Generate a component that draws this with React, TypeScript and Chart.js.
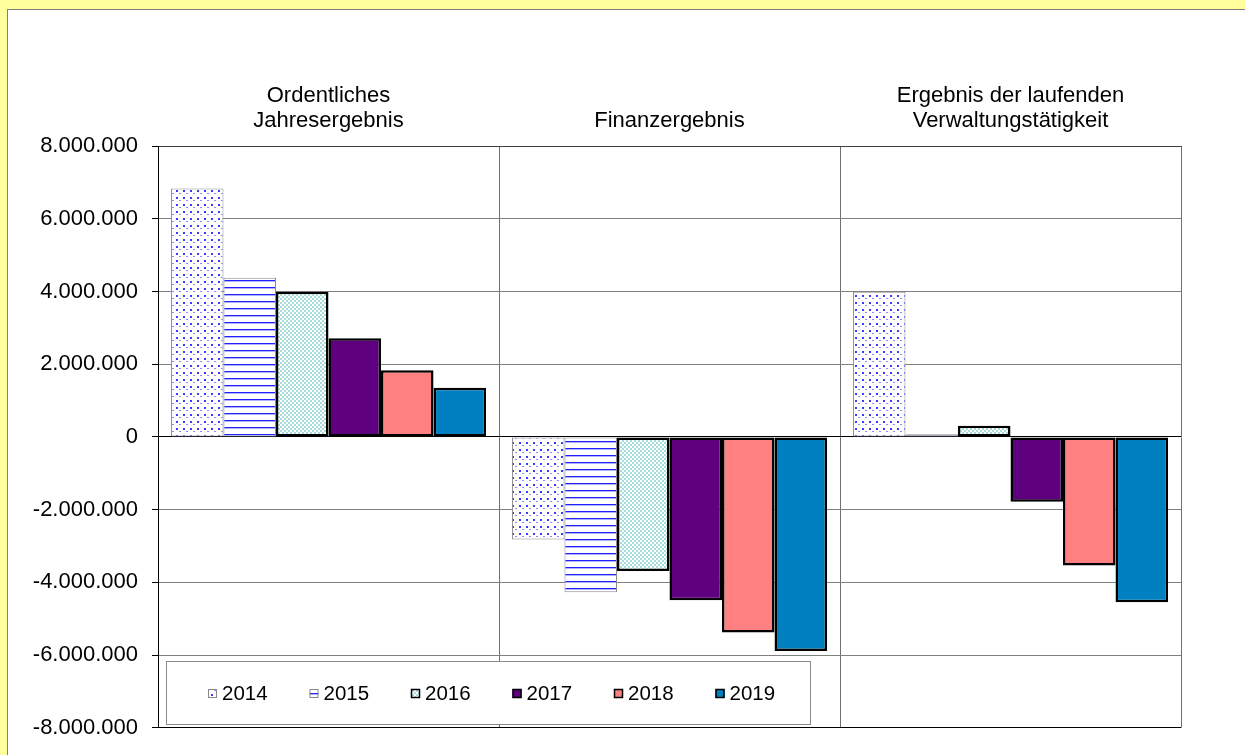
import React, { useEffect, useRef } from 'react';
import { Chart, registerables } from 'chart.js';

Chart.register(...registerables);

// ---- data ----
const categories: (string | string[])[] = [
  ['Ordentliches', 'Jahresergebnis'],
  'Finanzergebnis',
  ['Ergebnis der laufenden', 'Verwaltungstätigkeit'],
];
const years = ['2014', '2015', '2016', '2017', '2018', '2019'];
const values2014 = [6830000, -2820000, 3990000];
const values2015 = [4380000, -4270000, 70000];
const values2016 = [3990000, -3690000, 310000];
const values2017 = [2710000, -4490000, -1780000];
const values2018 = [1830000, -5380000, -3540000];
const values2019 = [1350000, -5890000, -4550000];
const yMin = -8000000;
const yMax = 8000000;
const yStep = 2000000;

const FONT = '"Liberation Sans", Arial, Helvetica, sans-serif';

function formatDE(v: number): string {
  const s = Math.abs(Math.round(v))
    .toString()
    .replace(/\B(?=(\d{3})+(?!\d))/g, '.');
  return (v < 0 ? '-' : '') + s;
}

function makePattern(kind: string): CanvasPattern | string {
  const c = document.createElement('canvas');
  const ctx = c.getContext('2d');
  if (!ctx) return '#fff';
  if (kind === 'dots') {
    c.width = 7;
    c.height = 7;
    ctx.fillStyle = '#ffffff';
    ctx.fillRect(0, 0, 7, 7);
    ctx.fillStyle = '#3a3aff';
    ctx.fillRect(1, 1, 2, 2);
    ctx.fillStyle = '#8a8aff';
    ctx.fillRect(4, 4, 2, 1);
  } else if (kind === 'lines') {
    c.width = 7;
    c.height = 7;
    ctx.fillStyle = '#ffffff';
    ctx.fillRect(0, 0, 7, 7);
    ctx.fillStyle = '#2222ff';
    ctx.fillRect(0, 0, 7, 1);
    ctx.fillStyle = '#b0b0ff';
    ctx.fillRect(0, 1, 7, 1);
  } else {
    c.width = 4;
    c.height = 4;
    ctx.fillStyle = '#a6dede';
    ctx.fillRect(0, 0, 4, 4);
    ctx.fillStyle = '#ffffff';
    ctx.fillRect(0, 0, 2, 2);
    ctx.fillRect(2, 2, 2, 2);
  }
  return ctx.createPattern(c, 'repeat') || '#fff';
}

const boxLegend = {
  id: 'boxLegend',
  afterDraw(chart: any) {
    const { ctx, chartArea } = chart;
    const x0 = chartArea.left + 8.5;
    const y0 = 661.5;
    const w = 644;
    const h = 63;
    ctx.save();
    ctx.fillStyle = '#ffffff';
    ctx.fillRect(x0, y0, w, h);
    ctx.strokeStyle = '#8a8a8a';
    ctx.lineWidth = 1;
    ctx.strokeRect(x0, y0, w, h);
    chart.data.datasets.forEach((ds: any, i: number) => {
      const sx = chartArea.left + 50 + i * 101.5;
      const sy = 689;
      ctx.fillStyle = ds.backgroundColor;
      ctx.fillRect(sx, sy, 9, 9);
      ctx.strokeStyle = ds.borderColor;
      ctx.lineWidth = ds.borderWidth > 1 ? 1.5 : 1;
      ctx.strokeRect(sx + 0.5, sy + 0.5, 8, 8);
      ctx.fillStyle = '#000';
      ctx.font = `20.5px ${FONT}`;
      ctx.textBaseline = 'middle';
      ctx.textAlign = 'left';
      ctx.fillText(ds.label, sx + 14, 694);
    });
    ctx.restore();
  },
};

export default function App() {
  const ref = useRef<HTMLCanvasElement | null>(null);

  useEffect(() => {
    if (!ref.current) return;
    const fills = [
      makePattern('dots'),
      makePattern('lines'),
      makePattern('checker'),
      '#5F007F',
      '#FF8080',
      '#0080C0',
    ];
    const borders = ['#8a8a8a', '#8a8a8a', '#000', '#000', '#000', '#000'];
    const widths = [1, 1, 2.5, 2.5, 2.5, 2.5];
    const series = [values2014, values2015, values2016, values2017, values2018, values2019];

    const chart = new Chart(ref.current, {
      type: 'bar',
      data: {
        labels: categories,
        datasets: series.map((vals, i) => ({
          label: years[i],
          data: vals,
          backgroundColor: fills[i] as any,
          borderColor: borders[i],
          borderWidth: widths[i],
          borderSkipped: false,
          categoryPercentage: 0.924,
          barPercentage: 1,
        })),
      },
      options: {
        responsive: false,
        animation: false,
        devicePixelRatio: 1,
        layout: { padding: { left: 0, right: 64, top: 0, bottom: 26 } },
        plugins: {
          legend: { display: false },
          tooltip: { enabled: false },
        },
        scales: {
          x: {
            position: 'top',
            offset: true,
            grid: { offset: true, color: '#707070', drawTicks: false },
            border: { display: true, color: '#404040' },
            ticks: {
              padding: 13,
              color: '#000',
              autoSkip: false,
              maxRotation: 0,
              font: { family: FONT, size: 22, lineHeight: '25px' } as any,
            },
            afterFit: (s: any) => {
              s.height = 146;
            },
          },
          y: {
            min: yMin,
            max: yMax,
            ticks: {
              stepSize: yStep,
              padding: 14,
              color: '#000',
              font: { family: FONT, size: 22 },
              callback: (v: any) => formatDE(Number(v)),
            },
            grid: {
              color: (c: any) =>
                c.tick && (c.tick.value === 0 || c.tick.value === yMin) ? '#000' : '#808080',
              tickColor: '#000',
              tickLength: 6,
            },
            border: { color: '#000' },
            afterFit: (s: any) => {
              s.width = 158;
            },
          },
        },
      },
      plugins: [boxLegend],
    });
    return () => chart.destroy();
  }, []);

  return (
    <div
      style={{
        position: 'fixed',
        left: 0,
        top: 0,
        width: 1245,
        height: 755,
        background: '#FFFF9E',
        overflow: 'hidden',
      }}
    >
      <div
        style={{
          position: 'absolute',
          left: 7,
          top: 9,
          width: 1260,
          height: 760,
          background: '#ffffff',
          borderLeft: '1px solid #7f7f7f',
          borderTop: '1px solid #7f7f7f',
        }}
      />
      <canvas
        ref={ref}
        width={1245}
        height={755}
        style={{ position: 'absolute', left: 0, top: 0 }}
      />
    </div>
  );
}
